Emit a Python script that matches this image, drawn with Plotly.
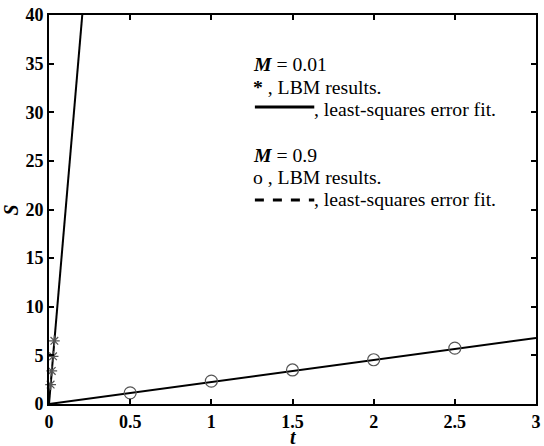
import plotly.graph_objects as go

# Data
t_m001 = [0.01, 0.017, 0.025, 0.033]
s_m001 = [2.0, 3.4, 4.9, 6.5]
fit_t_m001 = [0.0, 0.21]
fit_s_m001 = [0.0, 41.0]

t_m09 = [0.5, 1.0, 1.5, 2.0, 2.5]
s_m09 = [1.15, 2.35, 3.5, 4.55, 5.75]
fit_t_m09 = [0.0, 3.0]
fit_s_m09 = [0.0, 6.8]

x_ticks = [0, 0.5, 1, 1.5, 2, 2.5, 3]
x_ticklabels = ["0", "0.5", "1", "1.5", "2", "2.5", "3"]
y_ticks = [0, 5, 10, 15, 20, 25, 30, 35, 40]
y_ticklabels = ["0", "5", "10", "15", "20", "25", "30", "35", "40"]

W, H = 544, 446
L, R, T, B = 49, 3, 15, 42
pw, ph = W - L - R, H - T - B

def px(x):
    return (x - L) / pw

def py(y):
    return (H - B - y) / ph

FONT = "Liberation Serif, Times New Roman, serif"

fig = go.Figure()
fig.add_trace(go.Scatter(x=fit_t_m001, y=fit_s_m001, mode="lines",
                         line=dict(color="black", width=2), showlegend=False))
fig.add_trace(go.Scatter(x=fit_t_m09, y=fit_s_m09, mode="lines",
                         line=dict(color="black", width=2), showlegend=False))
fig.add_trace(go.Scatter(x=t_m001, y=s_m001, mode="markers",
                         marker=dict(symbol="asterisk-open", size=9, color="#555",
                                     line=dict(color="#555", width=1.2)),
                         showlegend=False, cliponaxis=False))
fig.add_trace(go.Scatter(x=t_m09, y=s_m09, mode="markers",
                         marker=dict(symbol="circle-open", size=12, color="#555",
                                     line=dict(color="#555", width=1.2)),
                         showlegend=False))

axis_common = dict(showline=True, linecolor="black", linewidth=2, mirror="ticks",
                   ticks="inside", ticklen=5, tickwidth=2, tickcolor="black",
                   showgrid=False, zeroline=False)

fig.update_xaxes(range=[0, 3], tickvals=x_ticks,
                 ticktext=["<b>%s</b>" % s for s in x_ticklabels],
                 tickfont=dict(family=FONT, size=18, color="black"), **axis_common)
fig.update_yaxes(range=[0, 40], tickvals=y_ticks,
                 ticktext=["<b>%s</b>" % s for s in y_ticklabels],
                 tickfont=dict(family=FONT, size=18, color="black"), **axis_common)

# Axis titles as annotations
fig.add_annotation(x=px(296), y=py(437), xref="paper", yref="paper",
                   text="<b><i>t</i></b>", showarrow=False,
                   xanchor="center", yanchor="middle",
                   font=dict(family=FONT, size=20, color="black"))
fig.add_annotation(x=px(11), y=py(210), xref="paper", yref="paper",
                   text="<b><i>S</i></b>", showarrow=False, textangle=-90,
                   xanchor="center", yanchor="middle",
                   font=dict(family=FONT, size=20, color="black"))

# Legend-like annotations
ann_font = dict(family=FONT, size=19.7, color="black")
texts = [
    (255, 64, "<i><b>M</b></i> = 0.01"),
    (255, 87, "<b>*</b> , LBM results."),
    (317, 109, ", least-squares error fit."),
    (255, 155, "<i><b>M</b></i> = 0.9"),
    (255, 177, "o , LBM results."),
    (317, 199, ", least-squares error fit."),
]
for x, y, s in texts:
    fig.add_annotation(x=px(x), y=py(y), xref="paper", yref="paper", text=s,
                       showarrow=False, xanchor="left", yanchor="middle", font=ann_font,
                       xshift=-2)

fig.add_shape(type="line", xref="paper", yref="paper",
              x0=px(257), x1=px(317), y0=py(107), y1=py(107),
              line=dict(color="black", width=3))
fig.add_shape(type="line", xref="paper", yref="paper",
              x0=px(257), x1=px(317), y0=py(200), y1=py(200),
              line=dict(color="black", width=3, dash="dash"))

fig.update_layout(width=W, height=H, margin=dict(l=L, r=R, t=T, b=B),
                  paper_bgcolor="white", plot_bgcolor="white",
                  font=dict(family=FONT, color="black"))

fig.write_html("out.html")
